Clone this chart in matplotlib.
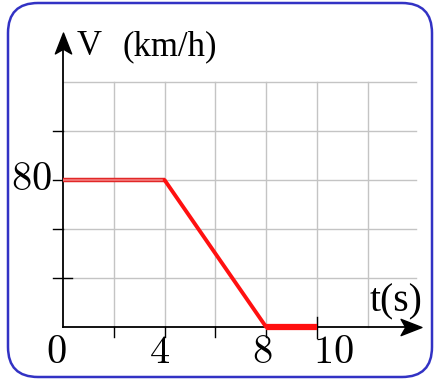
import matplotlib.pyplot as plt
from matplotlib.patches import FancyBboxPatch
from matplotlib.path import Path
from matplotlib.transforms import IdentityTransform

plt.rcParams['mathtext.fontset'] = 'cm'

# speed graph data
t = [0, 4, 8, 10]
v = [80, 80, 0, 0]

grid_x = [2, 4, 6, 8, 10, 12]
grid_y = [80 / 3, 160 / 3, 80, 320 / 3, 400 / 3]
x_labels = ['0', '4', '8', '10']
x_label_pos = [-0.28, 3.8, 7.85, 10.65]

fig = plt.figure(figsize=(4.34, 3.81), dpi=100)
ax = fig.add_axes([0, 0, 1, 1])
ax.set_xlim(-2.48, 14.61)
ax.set_ylim(-29.39, 177.96)
ax.axis('off')

# grid
for gx in grid_x:
    ax.plot([gx, gx], [0, grid_y[-1]], color='#c4c4c4', lw=1.0, zorder=1)
for gy in grid_y:
    ax.plot([0, 13.9], [gy, gy], color='#c4c4c4', lw=1.0, zorder=1)

# axes with stealth-like arrow heads
head_r = Path([(1, 0), (-1, 0.78), (-0.55, 0), (-1, -0.78), (1, 0)],
              [Path.MOVETO, Path.LINETO, Path.LINETO, Path.LINETO, Path.CLOSEPOLY])
head_u = Path([(0, 1), (0.78, -1), (0, -0.55), (-0.78, -1), (0, 1)],
              [Path.MOVETO, Path.LINETO, Path.LINETO, Path.LINETO, Path.CLOSEPOLY])
ax.plot([0, 13.5], [0, 0], color='black', lw=1.3, zorder=2)
ax.plot([0, 0], [0, 152], color='black', lw=1.3, zorder=2)
ax.plot([13.72], [0], marker=head_r, ms=15, color='black', zorder=4)
ax.plot([0], [154.3], marker=head_u, ms=15, color='black', zorder=4)

# ticks
for gx in grid_x[:4]:
    ax.plot([gx, gx], [0, -5.5], color='black', lw=1.0, zorder=2)
ax.plot([10, 10], [5.5, -5.8], color='black', lw=1.0, zorder=2)
for gy in grid_y[1:4]:
    ax.plot([0, -0.4], [gy, gy], color='black', lw=1.0, zorder=2)
ax.plot([-0.4, 0.35], [grid_y[0], grid_y[0]], color='black', lw=1.0, zorder=2)

# speed line
ax.plot(t[:2], v[:2], color='#e02020', lw=3.2, zorder=3, solid_capstyle='butt')
ax.plot(t[:2], v[:2], color='#f07070', lw=1.6, zorder=3, solid_capstyle='butt')
ax.plot(t[1:3], v[1:3], color='#ff1010', lw=2.8, zorder=3, solid_capstyle='round')
ax.plot(t[2:], v[2:], color='#ff1010', lw=4.5, zorder=3, solid_capstyle='butt')

# texts
for lab, px in zip(x_labels, x_label_pos):
    ax.text(px, -13.6, r'$\mathrm{%s}$' % lab, fontsize=29, ha='center', va='center')
ax.text(-0.43, 80.5, r'$\mathrm{80}$', fontsize=29, ha='right', va='center')
serif = 'Liberation Serif'
ax.text(0.55, 148, 'V', fontsize=25, family=serif, ha='left', va='baseline')
ax.text(2.35, 148, '(km/h)', fontsize=25, family=serif, ha='left', va='baseline')
ax.text(12.09, 8.7, 't(s)', fontsize=28.5, family=serif, ha='left', va='baseline')

# rounded frame
frame = FancyBboxPatch((8, 4), 424, 374, boxstyle='round,pad=0,rounding_size=30',
                       transform=IdentityTransform(), fill=False,
                       edgecolor='#3232c4', lw=1.8)
fig.patches.append(frame)

fig.savefig('out.png', dpi=100)
